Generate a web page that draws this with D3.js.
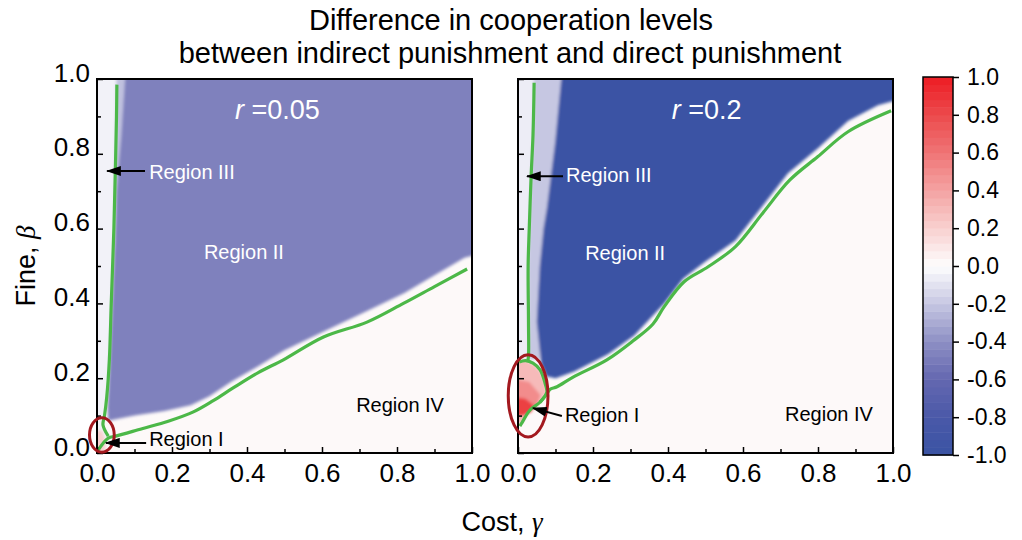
<!DOCTYPE html>
<html>
<head>
<meta charset="utf-8">
<script src="https://d3js.org/d3.v7.min.js"></script>
<style>
  body { margin: 0; background: #fff; }
  text { font-family: "Liberation Sans", Arial, sans-serif; }
</style>
</head>
<body>
<div id="graph"></div>
<script>

    // ---- data (cost gamma on x, fine beta on y) ----
    var axisTicks = [0, 0.2, 0.4, 0.6, 0.8, 1.0];
    var minorTicks = [0.1, 0.3, 0.5, 0.7, 0.9];
    var barTicks = [-1, -0.8, -0.6, -0.4, -0.2, 0, 0.2, 0.4, 0.6, 0.8, 1];

    var colorStops = [-1, -0.8, -0.6, -0.4, -0.2, 0, 0.2, 0.4, 0.6, 0.8, 1];
    var colorValues = ["#3a53a4", "#4a58a8", "#6467b0", "#8d8fc4", "#c6c7e2", "#fdfdfe",
        "#f8d0cf", "#f4a3a3", "#ef7475", "#ec4a4c", "#ed1c24"];

    var backgroundValue = 0.02;

    // r = 0.05
    var leftStrip = [[-0.05, -0.05], [-0.05, 1.05], [0.053, 1.05], [0.052, 0.9], [0.049, 0.76], [0.045, 0.6],
        [0.038, 0.4], [0.033, 0.25], [0.026, 0.15], [0.02, 0.1], [0.016, 0.075], [0.03, 0.045], [0.003, 0.008]];
    var leftStripValue = -0.04;
    var leftRegionIII = [[0.052, 1.05], [0.085, 1.05], [0.078, 0.85], [0.062, 0.7], [0.05, 0.6], [0.047, 0.7], [0.05, 0.85]];
    var leftRegionIIIValue = -0.22;
    var leftRegionII = [[0.078, 1.05], [1.05, 1.05], [1.05, 0.54], [0.98, 0.522], [0.9, 0.475], [0.82, 0.428],
        [0.72, 0.38], [0.62, 0.332], [0.5, 0.275], [0.43, 0.232], [0.36, 0.192], [0.3, 0.152], [0.25, 0.128],
        [0.18, 0.112], [0.1, 0.1], [0.05, 0.09], [0.03, 0.086], [0.028, 0.12], [0.032, 0.2], [0.038, 0.35],
        [0.044, 0.5], [0.052, 0.7], [0.065, 0.85]];
    var leftRegionIIValue = -0.47;
    var leftRegionI = [[-0.03, -0.03], [0.02, -0.03], [0.024, 0.03], [0.014, 0.06], [-0.03, 0.06]];
    var leftRegionIValue = 0.2;
    var leftLineA = [[0.053, 0.985], [0.052, 0.9], [0.049, 0.76], [0.045, 0.6], [0.038, 0.4], [0.033, 0.25],
        [0.026, 0.15], [0.02, 0.1], [0.016, 0.075], [0.03, 0.045]];
    var leftLineB = [[0.003, 0.008], [0.03, 0.04], [0.05, 0.045], [0.12, 0.065], [0.19, 0.085], [0.257, 0.11],
        [0.31, 0.14], [0.363, 0.174], [0.43, 0.215], [0.497, 0.249], [0.604, 0.31], [0.72, 0.35],
        [0.817, 0.4], [0.9, 0.445], [0.987, 0.492]];

    // r = 0.2
    var rightStrip = [[-0.05, 1.05], [0.043, 1.05], [0.04, 0.85], [0.035, 0.74], [0.03, 0.6], [0.027, 0.5],
        [0.028, 0.35], [0.028, 0.25], [-0.05, 0.25]];
    var rightStripValue = -0.06;
    var rightRegionIII = [[0.043, 1.05], [0.14, 1.05], [0.1, 0.8], [0.075, 0.62], [0.055, 0.4], [0.06, 0.25],
        [0.028, 0.25], [0.028, 0.35], [0.027, 0.5], [0.03, 0.6], [0.035, 0.74], [0.04, 0.85]];
    var rightRegionIIIValue = -0.2;
    var rightRegionII = [[0.12, 1.05], [1.05, 1.05], [1.05, 0.955], [0.96, 0.93], [0.88, 0.888], [0.8, 0.815],
        [0.72, 0.748], [0.65, 0.658], [0.58, 0.568], [0.5, 0.512], [0.44, 0.466], [0.39, 0.4], [0.31, 0.314],
        [0.24, 0.264], [0.15, 0.218], [0.1, 0.2], [0.075, 0.205], [0.062, 0.238], [0.05, 0.35], [0.058, 0.5],
        [0.068, 0.6], [0.077, 0.655], [0.099, 0.83]];
    var rightRegionIIValue = -1;
    var rightRegionI = [[-0.03, 0.245], [0.02, 0.247], [0.045, 0.236], [0.062, 0.215], [0.073, 0.185],
        [0.077, 0.163], [0.06, 0.136], [0.032, 0.115], [0.01, 0.08], [-0.03, 0.07]];
    var rightRegionIValue = 0.3;
    var rightRegionIMid = [[-0.02, 0.2], [0.03, 0.19], [0.06, 0.155], [0.05, 0.125], [0.02, 0.1], [-0.02, 0.09]];
    var rightRegionIMidValue = 0.5;
    var rightRegionICore = [[-0.01, 0.15], [0.02, 0.145], [0.042, 0.128], [0.036, 0.11], [0.015, 0.1], [-0.01, 0.1]];
    var rightRegionICoreValue = 0.85;
    var rightLineA = [[0.043, 0.99], [0.04, 0.85], [0.035, 0.74], [0.03, 0.6], [0.027, 0.5], [0.028, 0.35],
        [0.028, 0.26], [0.026, 0.245]];
    var rightLoop = [[0.003, 0.243], [0.02, 0.247], [0.04, 0.24], [0.059, 0.222], [0.072, 0.187],
        [0.077, 0.163], [0.07, 0.15], [0.059, 0.136]];
    var rightLineB = [[0.005, 0.072], [0.01, 0.08], [0.032, 0.115], [0.059, 0.136], [0.077, 0.158],
        [0.085, 0.17], [0.104, 0.177], [0.147, 0.203], [0.237, 0.249], [0.307, 0.3], [0.36, 0.345],
        [0.389, 0.39], [0.443, 0.458], [0.507, 0.498], [0.58, 0.552], [0.653, 0.642], [0.725, 0.73],
        [0.799, 0.792], [0.88, 0.859], [0.995, 0.915]];

    // annotations: text, gamma, beta, on dark background
    var leftLabels = [["Region III", 0.139, 0.733, true], ["Region II", 0.285, 0.519, true],
        ["Region IV", 0.691, 0.11, false], ["Region I", 0.139, 0.019, false]];
    var rightLabels = [["Region III", 0.128, 0.725, true], ["Region II", 0.179, 0.516, true],
        ["Region I", 0.125, 0.083, false], ["Region IV", 0.712, 0.086, false]];
    var leftArrows = [[[0.128, 0.754], [0.027, 0.754]], [[0.131, 0.027], [0.024, 0.027]]];
    var rightArrows = [[[0.12, 0.74], [0.024, 0.74]], [[0.117, 0.099], [0.04, 0.12]]];
    var leftCircle = [0.013, 0.048, 0.033, 0.046];
    var rightCircle = [0.027, 0.153, 0.053, 0.11];

    // ---- layout ----
    var svg = d3.select("#graph")
        .append("svg")
        .attr("width", 1022)
        .attr("height", 540);

    var defs = svg.append("defs");
    defs.append("filter").attr("id", "soft")
        .attr("x", "-10%").attr("y", "-10%").attr("width", "120%").attr("height", "120%")
        .append("feGaussianBlur").attr("stdDeviation", 1.6);
    defs.append("marker").attr("id", "head")
        .attr("viewBox", "0 -4 12 8")
        .attr("refX", 11).attr("refY", 0)
        .attr("markerUnits", "userSpaceOnUse")
        .attr("markerWidth", 15).attr("markerHeight", 10)
        .attr("orient", "auto")
        .append("path").attr("d", "M0,-4L12,0L0,4Z").attr("fill", "#000");

    var color = d3.scaleLinear().domain(colorStops).range(colorValues);
    var y = d3.scaleLinear().domain([0, 1]).range([453, 79]);
    var fmt = function (d) { return d.toFixed(1); };

    function drawPanel(id, x0, layers, lines, labels, arrows, circle, rText, showY) {
        var x = d3.scaleLinear().domain([0, 1]).range([x0, x0 + 375]);
        var g = svg.append("g");

        defs.append("clipPath").attr("id", "clip" + id)
            .append("rect").attr("x", x(0)).attr("y", y(1))
            .attr("width", x(1) - x(0)).attr("height", y(0) - y(1));

        var area = g.append("g").attr("clip-path", "url(#clip" + id + ")");
        area.append("rect")
            .attr("x", x(0)).attr("y", y(1))
            .attr("width", x(1) - x(0)).attr("height", y(0) - y(1))
            .attr("fill", color(backgroundValue));

        var line = d3.line()
            .x(function (d) { return x(d[0]); })
            .y(function (d) { return y(d[1]); });

        area.append("g").attr("filter", "url(#soft)")
            .selectAll("path")
            .data(layers)
            .enter()
            .append("path")
            .attr("d", function (d) { return line(d.pts) + "Z"; })
            .attr("fill", function (d) { return color(d.v); });

        var curve = d3.line().curve(d3.curveCatmullRom.alpha(0.5))
            .x(function (d) { return x(d[0]); })
            .y(function (d) { return y(d[1]); });
        area.selectAll(".contour")
            .data(lines)
            .enter()
            .append("path")
            .attr("d", curve)
            .attr("fill", "none")
            .attr("stroke", "#4cb848")
            .attr("stroke-width", 3.2)
            .attr("stroke-linejoin", "round");

        // axes with inward ticks
        var bottom = g.append("g").attr("transform", "translate(0," + y(0) + ")");
        bottom.call(d3.axisBottom(x).tickValues(axisTicks).tickSize(-6).tickPadding(11).tickFormat(fmt));
        bottom.call(function (s) { s.select(".domain").remove(); });
        bottom.selectAll("text").attr("font-size", 26).attr("fill", "#000").style("font-family", "Liberation Sans, Arial, sans-serif");
        bottom.selectAll("line").attr("stroke-width", 1.5);
        var bottomMinor = g.append("g").attr("transform", "translate(0," + y(0) + ")");
        bottomMinor.call(d3.axisBottom(x).tickValues(minorTicks).tickSize(-4).tickFormat(""));
        bottomMinor.select(".domain").remove();
        bottomMinor.selectAll("line").attr("stroke-width", 1.5);

        var left = g.append("g").attr("transform", "translate(" + x(0) + ",0)");
        left.call(d3.axisLeft(y).tickValues(axisTicks).tickSize(-6).tickPadding(7)
            .tickFormat(showY ? fmt : ""));
        left.select(".domain").remove();
        left.selectAll("text").attr("font-size", 26).attr("dy", "0.08em").attr("fill", "#000")
            .style("font-family", "Liberation Sans, Arial, sans-serif");
        left.selectAll("line").attr("stroke-width", 1.5);
        var leftMinor = g.append("g").attr("transform", "translate(" + x(0) + ",0)");
        leftMinor.call(d3.axisLeft(y).tickValues(minorTicks).tickSize(-4).tickFormat(""));
        leftMinor.select(".domain").remove();
        leftMinor.selectAll("line").attr("stroke-width", 1.5);

        // frame
        g.append("rect")
            .attr("x", x(0)).attr("y", y(1))
            .attr("width", x(1) - x(0)).attr("height", y(0) - y(1))
            .attr("fill", "none").attr("stroke", "#000").attr("stroke-width", 2);

        // annotations
        g.append("ellipse")
            .attr("cx", x(circle[0])).attr("cy", y(circle[1]))
            .attr("rx", x(circle[2]) - x(0)).attr("ry", y(0) - y(circle[3]))
            .attr("fill", "none").attr("stroke", "#a3191f").attr("stroke-width", 3);

        g.selectAll(".arrow")
            .data(arrows)
            .enter()
            .append("line")
            .attr("x1", function (d) { return x(d[0][0]); })
            .attr("y1", function (d) { return y(d[0][1]); })
            .attr("x2", function (d) { return x(d[1][0]); })
            .attr("y2", function (d) { return y(d[1][1]); })
            .attr("stroke", "#000").attr("stroke-width", 2)
            .attr("marker-end", "url(#head)");

        g.selectAll(".label")
            .data(labels)
            .enter()
            .append("text")
            .attr("x", function (d) { return x(d[1]); })
            .attr("y", function (d) { return y(d[2]); })
            .attr("font-size", 20)
            .attr("fill", function (d) { return d[3] ? "#fff" : "#000"; })
            .text(function (d) { return d[0]; });

        var rt = g.append("text")
            .attr("x", x(rText[1])).attr("y", y(0.893))
            .attr("font-size", 27).attr("fill", "#fff");
        rt.append("tspan").attr("font-style", "italic").text("r");
        rt.append("tspan").text(" =" + rText[0]);
    }

    drawPanel("L", 97,
        [{ pts: leftStrip, v: leftStripValue }, { pts: leftRegionIII, v: leftRegionIIIValue },
         { pts: leftRegionII, v: leftRegionIIValue }, { pts: leftRegionI, v: leftRegionIValue }],
        [leftLineA, leftLineB], leftLabels, leftArrows, leftCircle, ["0.05", 0.368], true);

    drawPanel("R", 518,
        [{ pts: rightStrip, v: rightStripValue }, { pts: rightRegionIII, v: rightRegionIIIValue },
         { pts: rightRegionII, v: rightRegionIIValue }, { pts: rightRegionI, v: rightRegionIValue },
         { pts: rightRegionIMid, v: rightRegionIMidValue }, { pts: rightRegionICore, v: rightRegionICoreValue }],
        [rightLineA, rightLoop, rightLineB], rightLabels, rightArrows, rightCircle, ["0.2", 0.41], false);

    // ---- colour bar ----
    var cb = d3.scaleLinear().domain([-1, 1]).range([455, 77]);
    var bands = d3.range(-1, 1, 0.04);
    svg.append("g")
        .selectAll("rect")
        .data(bands)
        .enter()
        .append("rect")
        .attr("x", 923)
        .attr("y", function (d) { return cb(d + 0.04); })
        .attr("width", 30)
        .attr("height", function (d) { return cb(d) - cb(d + 0.04) + 0.5; })
        .attr("fill", function (d) { return color(d + 0.02); });
    svg.append("rect")
        .attr("x", 923).attr("y", cb(1)).attr("width", 30).attr("height", cb(-1) - cb(1))
        .attr("fill", "none").attr("stroke", "#000").attr("stroke-width", 1.5);
    var cbAxis = svg.append("g").attr("transform", "translate(953,0)");
    cbAxis.call(d3.axisRight(cb).tickValues(barTicks).tickSize(6).tickPadding(8).tickFormat(fmt));
    cbAxis.select(".domain").remove();
    cbAxis.selectAll("text").attr("font-size", 23).attr("fill", "#000")
        .style("font-family", "Liberation Sans, Arial, sans-serif");
    cbAxis.selectAll("line").attr("stroke-width", 1.5);

    // ---- titles ----
    svg.append("text")
        .attr("x", 511).attr("y", 30)
        .attr("text-anchor", "middle")
        .attr("font-size", 29)
        .text("Difference in cooperation levels");
    svg.append("text")
        .attr("x", 510).attr("y", 63)
        .attr("text-anchor", "middle")
        .attr("font-size", 29)
        .text("between indirect punishment and direct punishment");

    var xt = svg.append("text")
        .attr("x", 502).attr("y", 531)
        .attr("text-anchor", "middle")
        .attr("font-size", 27);
    xt.append("tspan").text("Cost, ");
    xt.append("tspan").attr("font-family", "Liberation Serif, serif").attr("font-style", "italic").text("γ");

    var yt = svg.append("text")
        .attr("transform", "translate(35,266) rotate(-90)")
        .attr("text-anchor", "middle")
        .attr("font-size", 27);
    yt.append("tspan").text("Fine, ");
    yt.append("tspan").attr("font-family", "Liberation Serif, serif").attr("font-style", "italic").text("β");

</script>
</body>
</html>
